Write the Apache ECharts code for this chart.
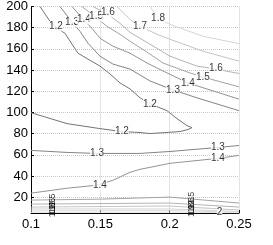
<!DOCTYPE html>
<html><head><meta charset="utf-8">
<script src="https://cdn.jsdelivr.net/npm/echarts@6/dist/echarts.min.js"></script>
<style>html,body{margin:0;padding:0;background:#fff}#c{width:273px;height:245px}</style>
</head><body><div id="c"></div>
<script>
const xTicks = [0.1, 0.15, 0.2, 0.25];
const yTicks = [20, 40, 60, 80, 100, 120, 140, 160, 180, 200];
const levels = ['1.2','1.3','1.4','1.5','1.6','1.7','1.8','1.3','1.4','1.5','1.6','1.7','1.8','1.9','2'];
const c12 = [[0.1065,200],[0.1137,186],[0.1187,179.4],[0.1245,174.7],[0.1296,164.4],[0.1339,155.9],[0.1411,150.3],[0.1497,143.8],[0.157,136.3],[0.1642,127.8],[0.1714,122.2],[0.1786,113.8],[0.1858,108.1],[0.1981,101.6],[0.2053,94.1],[0.2125,87.5],[0.2161,85.6],[0.2132,83.8],[0.2074,81.9],[0.1858,80.0],[0.1786,81.0],[0.1656,81.9],[0.1497,84.7],[0.126,89.4],[0.1,99.7]];
const c13a = [[0.1209,200],[0.1303,184.1],[0.1353,176.6],[0.1411,165.3],[0.1497,153.1],[0.1591,145.6],[0.1714,140.9],[0.1858,129.7],[0.2024,121.25],[0.2197,113.75],[0.25,101.6]];
const c14a = [[0.1296,200],[0.1389,185.9],[0.144,179.4],[0.1498,170],[0.1591,162.5],[0.1714,155.9],[0.1837,146.6],[0.1952,139.1],[0.2132,127.8],[0.25,112.5]];
const c15a = [[0.1368,200],[0.1476,188.75],[0.1548,181.25],[0.1642,173.75],[0.1714,167.2],[0.1837,156.9],[0.1952,146.6],[0.2147,137.2],[0.224,133.4],[0.25,124.1]];
const c16a = [[0.1447,200],[0.1555,192.5],[0.1642,184.1],[0.1714,175.6],[0.1858,164.4],[0.2002,153.1],[0.2197,143.75],[0.2334,140.9],[0.25,136.7]];
const c17a = [[0.162,200],[0.1714,187.8],[0.1786,181.25],[0.1909,173.75],[0.2002,169.1],[0.224,157.8],[0.25,148.4]];
const c18a = [[0.1858,200],[0.1916,188.75],[0.2002,183.1],[0.224,171.9],[0.25,164.9]];
const c13b = [[0.1,64.1],[0.126,62.2],[0.1476,61.25],[0.1786,61.25],[0.2002,63.1],[0.2349,66.9],[0.25,68.75]];
const c14b = [[0.1,23.75],[0.126,28.4],[0.1476,31.25],[0.1591,35.9],[0.1714,43.4],[0.1786,46.25],[0.1858,48.1],[0.2002,51.9],[0.2349,56.6],[0.25,59.4]];
const c15b = [[0.1,17.2],[0.15,18.1],[0.2,20],[0.25,14.4]];
const c16b = [[0.1,13.4],[0.2,14.4],[0.25,10.6]];
const c17b = [[0.1,10.6],[0.2,11.6],[0.25,7.8]];
const c18b = [[0.1,8.8],[0.2,8.8],[0.25,6.4]];
const c19b = [[0.1,7.0],[0.2,7.2],[0.25,5.8]];
const c20b = [[0.1,5.6],[0.2,5.8],[0.25,5.2]];
const lineData = [c12,c13a,c14a,c15a,c16a,c17a,c18a,c13b,c14b,c15b,c16b,c17b,c18b,c19b,c20b];
const lineGray = ['#747474','#848484','#939393','#a3a3a3','#b3b3b3','#c4c4c4','#d4d4d4','#848484','#939393','#a3a3a3','#b3b3b3','#c4c4c4','#d4d4d4','#dcdcdc','#e4e4e4'];
const labelPts = [[0.118,181.3,'1.2'],[0.1296,185,'1.3'],[0.1382,187.8,'1.4'],[0.1469,190.6,'1.5'],[0.1555,194.4,'1.6'],[0.1786,181.3,'1.7'],[0.1916,188.75,'1.8'],
  [0.1858,108.1,'1.2'],[0.2024,121.25,'1.3'],[0.2132,127.8,'1.4'],[0.224,133.4,'1.5'],[0.2334,141.9,'1.6'],
  [0.1656,81.9,'1.2'],[0.1476,61.25,'1.3'],[0.2348,66.9,'1.3'],[0.1497,31.25,'1.4'],[0.2348,56.6,'1.4'],[0.236,6.0,'2']];
const labelRot = [[0.1155,17.5,'1.5'],[0.1155,13.5,'1.6'],[0.1155,10.6,'1.7'],[0.1155,8.8,'1.8'],[0.1155,7.0,'1.9'],
  [0.2155,19.2,'1.5'],[0.2155,14.2,'1.6'],[0.2155,11.4,'1.7'],[0.2155,8.7,'1.8'],[0.2155,7.1,'1.9']];

const chart = echarts.init(document.getElementById('c'), null, {renderer:'canvas'});
const series = lineData.map((d,i)=>({
  type:'line', data:d, showSymbol:false, symbol:'none', silent:true, z:2,
  lineStyle:{color:lineGray[i], width:1}, name:levels[i]
}));
series.push({
  type:'scatter', data:labelPts, symbolSize:0, z:5, silent:true,
  label:{show:true, position:'inside', formatter:p=>p.data[2], color:'#000', fontSize:10,
    fontFamily:'Liberation Sans, Arial, sans-serif', backgroundColor:'#fff', padding:0}
});
series.push({
  type:'scatter', data:labelRot, symbolSize:0, z:5, silent:true,
  label:{show:true, position:'inside', rotate:90, formatter:p=>p.data[2], color:'#000', fontSize:9,
    fontFamily:'Liberation Sans, Arial, sans-serif'}
});
const axisFont = {color:'#000', fontSize:13, fontFamily:'Liberation Sans, Arial, sans-serif'};
chart.setOption({
  animation:false,
  grid:{left:31, right:34, top:5, bottom:32, containLabel:false},
  xAxis:{type:'value', min:0.1, max:0.25, interval:0.05,
    axisLine:{show:true, onZero:false, lineStyle:{color:'#000', width:1}},
    axisTick:{show:true, inside:true, length:3, lineStyle:{color:'#000'}},
    axisLabel:Object.assign({margin:5, formatter:v=>String(+v.toFixed(2)), customValues:xTicks}, axisFont),
    splitLine:{show:true, lineStyle:{color:'#c8c8c8', type:'dotted', width:1}}},
  yAxis:{type:'value', min:5, max:200,
    axisLine:{show:true, onZero:false, lineStyle:{color:'#000', width:1}},
    axisTick:{show:true, inside:true, length:3, lineStyle:{color:'#000'}, customValues:yTicks},
    axisLabel:Object.assign({margin:3, customValues:yTicks}, axisFont),
    splitLine:{show:true, lineStyle:{color:'#c8c8c8', type:'dotted', width:1}}},
  series:series
});
</script></body></html>
